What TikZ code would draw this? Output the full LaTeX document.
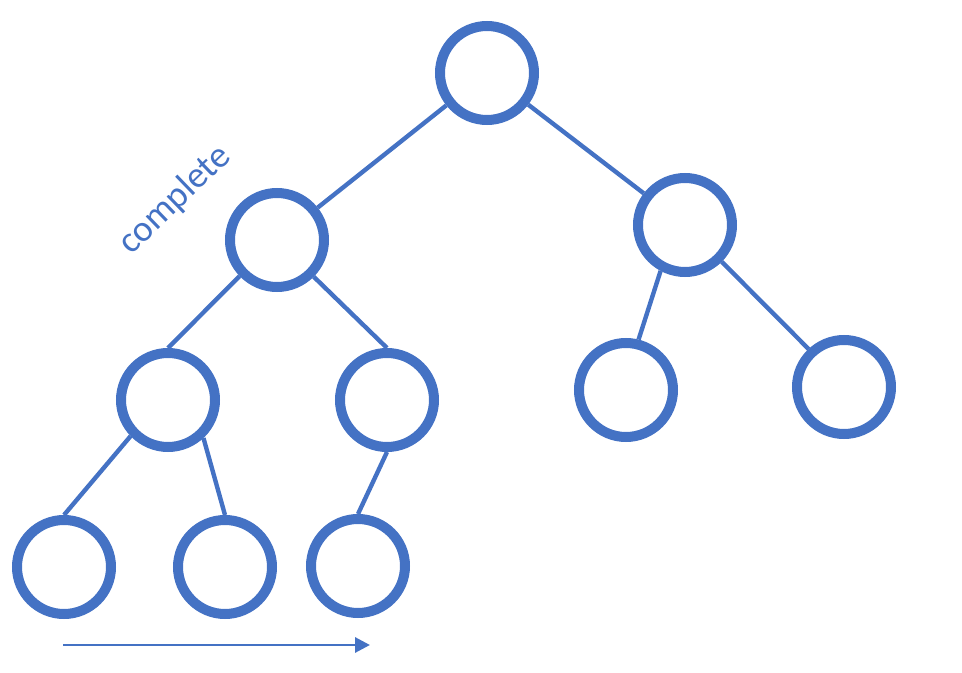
\documentclass[tikz,border=0pt]{standalone}
\usepackage{fontspec}
\setmainfont{Carlito}
\usetikzlibrary{arrows.meta}
\definecolor{treeblue}{RGB}{68,114,196}

\begin{document}
\begin{tikzpicture}[vertex/.style={circle, draw=treeblue, line width=0.2cm, minimum size=1.88cm, inner sep=0pt}, link/.style={treeblue, line width=2.5pt}, arr/.style={-{Triangle[length=3mm, width=3mm]}, treeblue, line width=1.7pt}]
\useasboundingbox (0,0) rectangle (19.24,13.44);
\node[vertex] (root) at (9.74,11.98) {};
\node[vertex] (left) at (5.54,8.64) {};
\node[vertex] (right) at (13.70,8.94) {};
\node[vertex] (leftleft) at (3.36,5.44) {};
\node[vertex] (leftright) at (7.74,5.44) {};
\node[vertex] (rightleft) at (12.52,5.64) {};
\node[vertex] (rightright) at (16.88,5.70) {};
\node[vertex] (lll) at (1.28,2.10) {};
\node[vertex] (llr) at (4.50,2.10) {};
\node[vertex] (lrl) at (7.16,2.12) {};
\node[treeblue, rotate=44, font=\fontsize{21}{21}\selectfont] (label) at (3.50,9.44) {complete};
\coordinate (fillstart) at (1.26,0.54);
\coordinate (fillend) at (7.40,0.54);
\draw[link] (root) -- (left);
\draw[link] (root) -- (right);
\draw[link] (left.224) -- (leftleft.north);
\draw[link] (left.315) -- (leftright.north);
\draw[link] (right.242) -- (rightleft.76);
\draw[link] (right.315) -- (rightright.133);
\draw[link] (leftleft.224) -- (lll.north);
\draw[link] (leftleft.313) -- (llr.north);
\draw[link] (leftright.south) -- (lrl.north);
\draw[arr] (fillstart) -- (fillend);
\end{tikzpicture}
\end{document}
